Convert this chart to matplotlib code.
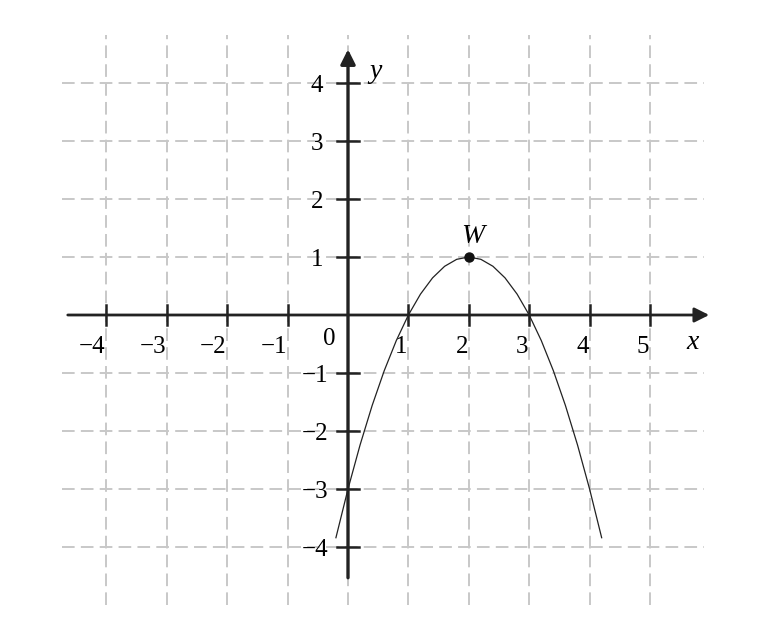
import matplotlib.pyplot as plt

plt.rcParams['font.family'] = ['Liberation Serif', 'DejaVu Serif']

# points
curve_x = [-0.2, 0.0, 0.2, 0.4, 0.6, 0.8, 1.0, 1.2, 1.4, 1.6, 1.8, 2.0,
           2.2, 2.4, 2.6, 2.8, 3.0, 3.2, 3.4, 3.6, 3.8, 4.0, 4.2]
curve_y = [-3.84, -3.0, -2.24, -1.56, -0.96, -0.44, 0.0, 0.36, 0.64, 0.84, 0.96, 1.0,
           0.96, 0.84, 0.64, 0.36, 0.0, -0.44, -0.96, -1.56, -2.24, -3.0, -3.84]
vertex = (2, 1)

x_ticks = [-4, -3, -2, -1, 1, 2, 3, 4, 5]
y_ticks = [-4, -3, -2, -1, 1, 2, 3, 4]
grid_x = [-4, -3, -2, -1, 0, 1, 2, 3, 4, 5]
grid_y = [-4, -3, -2, -1, 1, 2, 3, 4]

fig = plt.figure(figsize=(7.75, 6.3), dpi=100)
ax = fig.add_axes([0, 0, 1, 1])
ax.set_xlim(-5.762, 7.07)
ax.set_ylim(-5.431, 5.431)
ax.set_axis_off()

# dashed grid
ax.vlines(grid_x, -5.0, 4.83, colors='#c8c8c8', linewidth=1.4, linestyles=(0, (6.5, 3.2)), zorder=1)
ax.hlines(grid_y, -4.73, 5.9, colors='#c8c8c8', linewidth=1.4, linestyles=(0, (6.5, 3.2)), zorder=1)

# axes with arrows
ax.annotate('', xy=(5.98, 0), xytext=(-4.64, 0),
            arrowprops=dict(arrowstyle='-|>', lw=2.0, color='#222222', mutation_scale=22,
                            shrinkA=0, shrinkB=0), zorder=3)
ax.annotate('', xy=(0, 4.58), xytext=(0, -4.53),
            arrowprops=dict(arrowstyle='-|>', lw=2.4, color='#222222', mutation_scale=22,
                            shrinkA=0, shrinkB=0), zorder=3)

fs = 18
for t in x_ticks:
    ax.plot([t, t], [-0.17, 0.17], color='#222222', lw=1.8, zorder=3)
    ax.text(t - 0.01, -0.55, '\u2212%d' % -t if t < 0 else str(t),
            ha='right', va='center', fontsize=fs)
for t in y_ticks:
    ax.plot([-0.18, 0.18], [t, t], color='#222222', lw=1.8, zorder=3)
    ax.text(-0.33 if t < 0 else -0.41, t - 0.06, '\u2212%d' % -t if t < 0 else str(t),
            ha='right', va='center', fontsize=fs)

ax.text(-0.31, -0.41, '0', ha='center', va='center', fontsize=fs)
ax.text(5.71, -0.47, 'x', ha='center', va='center', fontsize=fs + 2, style='italic')
ax.text(0.45, 4.2, 'y', ha='center', va='center', fontsize=fs + 2, style='italic')

# parabola
ax.plot(curve_x, curve_y, color='#222222', lw=0.9, zorder=4)
ax.plot(*vertex, 'o', color='#111111', markersize=6.5, zorder=5)
ax.text(vertex[0] + 0.06, vertex[1] + 0.36, 'W', ha='center', va='center',
        fontsize=fs + 2, style='italic')

fig.savefig('out.png', dpi=100)
